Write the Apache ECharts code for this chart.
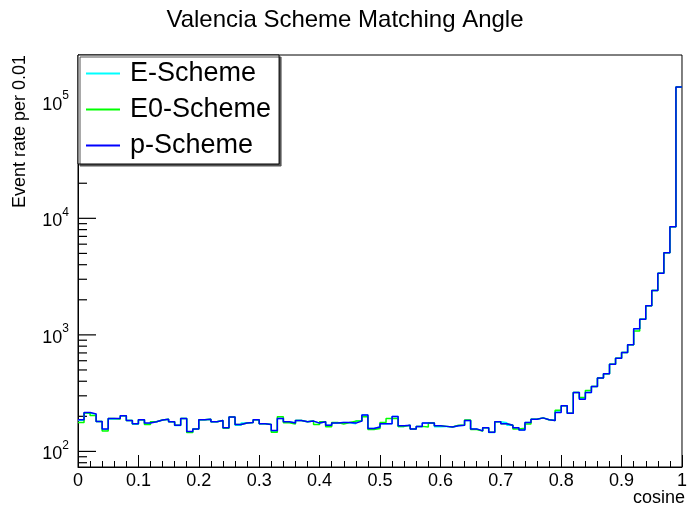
<!DOCTYPE html>
<html>
<head>
<meta charset="utf-8">
<script src="https://cdn.jsdelivr.net/npm/echarts@6/dist/echarts.min.js"></script>
<style>html,body{margin:0;padding:0;background:#fff}#c{width:690px;height:516px}</style>
</head>
<body>
<div id="c"></div>
<script>
// ---- data ----
const binWidth = 0.01;
const seriesNames = ['E-Scheme', 'E0-Scheme', 'p-Scheme'];
const pScheme = [
  187,216,210,181,156,192,192,202,184,173,
  187,175,180,186,189,180,168,192,148,156,
  187,189,180,184,160,197,170,175,177,187,
  173,170,151,192,180,175,184,180,182,175,
  180,168,175,177,177,175,182,205,157,162,
  173,173,199,166,168,156,164,175,175,166,
  164,162,166,168,184,156,150,160,146,180,
  173,168,160,153,177,189,194,187,184,216,
  246,213,320,280,320,361,426,463,561,631,
  705,821,1130,1360,1780,2400,3380,5070,8470,134000
];
const e0Scheme = [
  177,214,203,181,150,192,190,202,184,173,
  187,170,180,186,189,180,168,192,145,156,
  187,189,180,184,158,197,170,175,177,187,
  173,170,146,198,176,172,184,180,182,170,
  180,163,177,172,177,182,182,198,154,157,
  177,192,192,164,168,156,164,162,175,166,
  164,162,168,168,186,154,150,160,146,180,
  173,168,156,158,172,189,194,187,184,226,
  246,213,320,290,333,361,426,463,561,631,
  705,821,1080,1360,1780,2400,3380,5070,8470,134000
];
const eScheme = [
  185,214,208,181,154,190,192,202,184,171,
  187,173,180,186,189,180,167,192,146,156,
  187,189,180,184,160,197,168,175,177,187,
  173,170,149,192,180,175,184,180,182,175,
  180,168,175,177,176,173,182,205,157,162,
  173,173,199,164,168,156,164,175,175,163,
  164,162,166,168,184,156,150,160,145,180,
  176,168,160,153,177,189,194,187,184,222,
  246,213,320,283,320,361,426,463,561,631,
  705,821,1130,1360,1780,2400,3380,5070,8470,134000
];
const xTickLabels = ['0','0.1','0.2','0.3','0.4','0.5','0.6','0.7','0.8','0.9','1'];
const yMajorTicks = [100, 1000, 10000, 100000];
const yMinorTicks = [80, 90, 200, 300, 400, 500, 600, 700, 800, 900,
  2000, 3000, 4000, 5000, 6000, 7000, 8000, 9000,
  20000, 30000, 40000, 50000, 60000, 70000, 80000, 90000, 200000];

const FONT = 'Liberation Sans, Arial, Helvetica, sans-serif';
const Y_MIN = 73.5, Y_MAX = 252000;

function toStep(vals) {
  const d = vals.map((v, i) => [+(i * binWidth).toFixed(2), v]);
  d.push([+(vals.length * binWidth).toFixed(2), vals[vals.length - 1]]);
  return d;
}

const chart = echarts.init(document.getElementById('c'), null, {renderer: 'canvas'});

const colors = ['#00ffff', '#00ff00', '#0000ff'];
const datasets = [eScheme, e0Scheme, pScheme];

const option = {
  animation: false,
  backgroundColor: '#fff',
  title: {
    text: 'Valencia Scheme Matching Angle',
    left: 'center',
    top: 3,
    textStyle: {fontFamily: FONT, fontSize: 24, fontWeight: 'normal', color: '#000'}
  },
  grid: {left: 78, right: 4, top: 55, bottom: 49, show: true, borderColor: '#000', borderWidth: 1},
  legend: {
    orient: 'vertical',
    left: 78, top: 55,
    padding: [5, 8, 5, 8],
    icon: 'rect',
    itemWidth: 34, itemHeight: 2, itemGap: 9,
    backgroundColor: '#fff',
    borderColor: '#000', borderWidth: 1,
    shadowColor: '#555', shadowOffsetX: 2, shadowOffsetY: 2, shadowBlur: 0,
    textStyle: {fontFamily: FONT, fontSize: 27, lineHeight: 27, color: '#000', padding: [0, 0, 0, 5]},
    data: seriesNames
  },
  xAxis: {
    type: 'value', min: 0, max: 1, interval: 0.1,
    axisLine: {show: true, lineStyle: {color: '#000', width: 1}},
    axisTick: {show: true, inside: true, length: 12, lineStyle: {color: '#000'}},
    minorTick: {show: true, splitNumber: 5, length: 6, lineStyle: {color: '#000'}},
    splitLine: {show: false},
    axisLabel: {
      fontFamily: FONT, fontSize: 18, color: '#000', margin: 5,
      formatter: v => xTickLabels[Math.round(v * 10)]
    }
  },
  yAxis: {
    type: 'log', logBase: 10, min: Y_MIN, max: Y_MAX, position: 'left',
    axisLine: {show: true, lineStyle: {color: '#000', width: 1}},
    axisTick: {show: false},
    splitLine: {show: false},
    axisLabel: {
      margin: 9,
      formatter: v => {
        const l = Math.log10(v);
        const e = Math.round(l);
        if (Math.abs(l - e) > 1e-6) return '';
        return '{b|10}{s|' + e + '}';
      },
      rich: {
        b: {fontFamily: FONT, fontSize: 18, color: '#000', lineHeight: 24, verticalAlign: 'bottom'},
        s: {fontFamily: FONT, fontSize: 12, color: '#000', lineHeight: 24, verticalAlign: 'top'}
      }
    }
  },
  series: seriesNames.map((n, k) => ({
    name: n,
    type: 'line',
    step: 'end',
    symbol: 'none',
    z: 2 + k * 0.1,
    color: colors[k],
    itemStyle: {color: colors[k]},
    lineStyle: {color: colors[k], width: 1.5},
    data: toStep(datasets[k])
  }))
};
chart.setOption(option);

// y-axis ticks (log minor ticks 2..9) positioned through the library's own log scale
const x0 = chart.convertToPixel({xAxisIndex: 0}, 0);
function tickEl(v, len) {
  const y = chart.convertToPixel({yAxisIndex: 0}, v);
  return {type: 'line', shape: {x1: x0, y1: y, x2: x0 + len, y2: y}, style: {stroke: '#000', lineWidth: 1.2}};
}
const graphics = [
  {
    type: 'text', x: 20, y: 55, rotation: Math.PI / 2,
    style: {text: 'Event rate per 0.01', font: '18px ' + FONT, fill: '#000', textAlign: 'right', textVerticalAlign: 'middle'}
  },
  {
    type: 'text', x: 685, y: 498,
    style: {text: 'cosine', font: '18px ' + FONT, fill: '#000', textAlign: 'right', textVerticalAlign: 'middle'}
  }
].concat(yMajorTicks.map(v => tickEl(v, 18))).concat(yMinorTicks.map(v => tickEl(v, 9)));
chart.setOption({graphic: graphics});
</script>
</body>
</html>
